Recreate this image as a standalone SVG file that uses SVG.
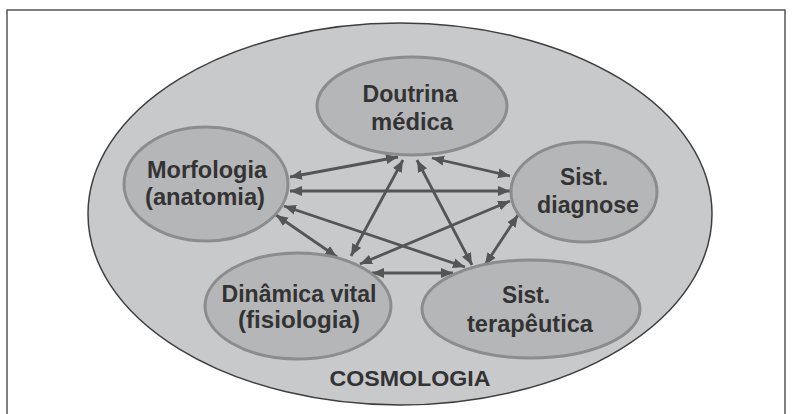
<svg xmlns="http://www.w3.org/2000/svg" width="792" height="414" viewBox="0 0 792 414">
<defs>
<marker id="ah" markerUnits="userSpaceOnUse" markerWidth="13" markerHeight="11" refX="12" refY="5" orient="auto-start-reverse" viewBox="0 0 13 10">
<path d="M0,0 L12,5 L0,10 z" fill="#555"/>
</marker>
<style>
.node ellipse{fill:#b5b6b8;stroke:#8c8c8c;stroke-width:3}
.lbl{font-family:"Liberation Sans",Arial,sans-serif;font-weight:bold;font-size:24.5px;fill:#333;text-anchor:middle}
#connectors line{stroke:#555;stroke-width:2.8;marker-start:url(#ah);marker-end:url(#ah)}
</style>
</defs>
<rect x="7" y="10" width="778" height="420" fill="#fff" stroke="#555" stroke-width="1.5"/>
<g id="cosmologia">
<ellipse cx="400" cy="214" rx="312" ry="191" fill="#c8c9cb" stroke="#3f3f3f" stroke-width="1.5"/>
<text x="410" y="386" class="lbl" style="font-size:21.5px" textLength="161" lengthAdjust="spacingAndGlyphs">COSMOLOGIA</text>
</g>
<g id="connectors">
<line x1="290" y1="177" x2="398" y2="157"/>
<line x1="290" y1="191" x2="510" y2="191"/>
<line x1="432" y1="158" x2="510" y2="176"/>
<line x1="403" y1="160" x2="351" y2="256"/>
<line x1="417" y1="160" x2="472" y2="265"/>
<line x1="276" y1="215" x2="337" y2="257"/>
<line x1="284" y1="206" x2="465" y2="267"/>
<line x1="510" y1="201" x2="360" y2="264"/>
<line x1="518" y1="215" x2="485" y2="265"/>
<line x1="372" y1="273" x2="453" y2="273"/>
</g>
<g id="doutrina" class="node">
<ellipse cx="412" cy="106" rx="95" ry="49"/>
<text class="lbl" x="410" y="102" textLength="95" lengthAdjust="spacingAndGlyphs">Doutrina</text>
<text class="lbl" x="412" y="130" textLength="82" lengthAdjust="spacingAndGlyphs">médica</text>
</g>
<g id="morfologia" class="node">
<ellipse cx="206" cy="184" rx="82" ry="57"/>
<text class="lbl" x="207" y="178" textLength="120" lengthAdjust="spacingAndGlyphs">Morfologia</text>
<text class="lbl" x="205" y="205" textLength="120" lengthAdjust="spacingAndGlyphs">(anatomia)</text>
</g>
<g id="diagnose" class="node">
<ellipse cx="584" cy="192" rx="73" ry="50"/>
<text class="lbl" x="584" y="185" textLength="48" lengthAdjust="spacingAndGlyphs">Sist.</text>
<text class="lbl" x="588" y="213" textLength="102" lengthAdjust="spacingAndGlyphs">diagnose</text>
</g>
<g id="dinamica" class="node">
<ellipse cx="298" cy="306" rx="93" ry="53"/>
<text class="lbl" x="299" y="302" textLength="155" lengthAdjust="spacingAndGlyphs">Dinâmica vital</text>
<text class="lbl" x="299" y="328" textLength="122" lengthAdjust="spacingAndGlyphs">(fisiologia)</text>
</g>
<g id="terapeutica" class="node">
<ellipse cx="531" cy="309" rx="109" ry="49"/>
<text class="lbl" x="526" y="303" textLength="48" lengthAdjust="spacingAndGlyphs">Sist.</text>
<text class="lbl" x="530" y="332" textLength="126" lengthAdjust="spacingAndGlyphs">terapêutica</text>
</g>
</svg>
